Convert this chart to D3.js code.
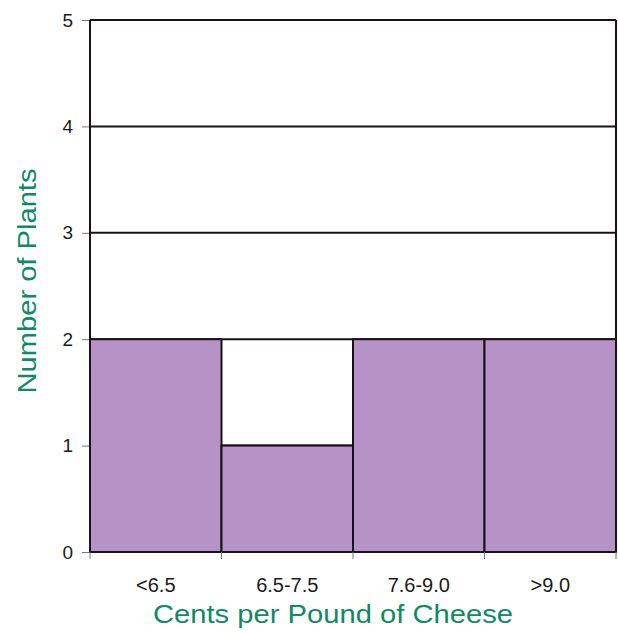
<!DOCTYPE html>
<html>
<head>
<meta charset="utf-8">
<script src="https://cdn.jsdelivr.net/npm/d3@7"></script>
<style>
  html, body { margin: 0; padding: 0; background: #ffffff; }
  svg { display: block; font-family: "Liberation Sans", Arial, sans-serif; }
</style>
</head>
<body>
<svg id="chart" width="618" height="633"></svg>
<script>
const categories = ["<6.5", "6.5-7.5", "7.6-9.0", ">9.0"];
const plantCounts = [2, 1, 2, 2];
const yTicks = [0, 1, 2, 3, 4, 5];
const xTitle = "Cents per Pound of Cheese";
const yTitle = "Number of Plants";

(function () {
const svg = d3.select("#chart");
const plotLeft = 90, plotRight = 616, plotTop = 20, plotBottom = 552;
const green = "#0f8a65";
const lineColor = "#1a1216";

const x = d3.scaleBand().domain(categories).range([plotLeft, plotRight]).padding(0);
const y = d3.scaleLinear().domain([0, 5]).range([plotBottom, plotTop]);

// gridlines
svg.append("g").selectAll("line").data(yTicks.filter(d => d > 0)).join("line")
  .attr("x1", plotLeft).attr("x2", plotRight)
  .attr("y1", d => y(d)).attr("y2", d => y(d))
  .attr("stroke", lineColor).attr("stroke-width", 2);

// bars
svg.append("g").selectAll("rect").data(categories).join("rect")
  .attr("x", d => x(d))
  .attr("y", (d, i) => y(plantCounts[i]))
  .attr("width", x.bandwidth())
  .attr("height", (d, i) => y(0) - y(plantCounts[i]))
  .attr("fill", "#b693c7")
  .attr("stroke", lineColor).attr("stroke-width", 2);

// frame: left, right, bottom
svg.append("line").attr("x1", plotLeft).attr("x2", plotLeft).attr("y1", y(5)).attr("y2", y(0))
  .attr("stroke", lineColor).attr("stroke-width", 2);
svg.append("line").attr("x1", plotRight).attr("x2", plotRight).attr("y1", y(5)).attr("y2", y(0))
  .attr("stroke", lineColor).attr("stroke-width", 2);
svg.append("line").attr("x1", plotLeft).attr("x2", plotRight).attr("y1", y(0)).attr("y2", y(0))
  .attr("stroke", lineColor).attr("stroke-width", 2);

// y axis
const yAxis = svg.append("g").attr("transform", `translate(${plotLeft - 1},0)`)
  .call(d3.axisLeft(y).tickValues(yTicks).tickFormat(d3.format("d")).tickSize(7).tickPadding(9));
yAxis.select(".domain").remove();
yAxis.selectAll(".tick line").attr("stroke", "#777").attr("stroke-width", 1);
yAxis.selectAll(".tick text").attr("font-size", 19).attr("fill", "#1a1a1a")
  .attr("font-family", "'Liberation Sans', Arial, sans-serif");

// x axis labels
const xAxis = svg.append("g").attr("transform", `translate(0,${plotBottom})`)
  .call(d3.axisBottom(x).tickSize(0).tickPadding(0));
xAxis.select(".domain").remove();
xAxis.selectAll(".tick text").attr("font-size", 20).attr("fill", "#1a1a1a")
  .attr("dy", null).attr("y", 40)
  .attr("font-family", "'Liberation Sans', Arial, sans-serif");

// x boundary ticks
const bounds = categories.map(c => x(c)).concat([x(categories[categories.length - 1]) + x.bandwidth()]);
svg.append("g").selectAll("line").data(bounds).join("line")
  .attr("x1", d => d).attr("x2", d => d)
  .attr("y1", plotBottom).attr("y2", plotBottom + 7)
  .attr("stroke", "#777").attr("stroke-width", 1);

// titles
svg.append("text").attr("x", 333).attr("y", 623)
  .attr("text-anchor", "middle").attr("font-size", 26).attr("fill", green)
  .attr("textLength", 360).attr("lengthAdjust", "spacingAndGlyphs")
  .text(xTitle);

svg.append("text").attr("transform", "translate(36,281) rotate(-90)")
  .attr("text-anchor", "middle").attr("font-size", 26).attr("fill", green)
  .attr("textLength", 225).attr("lengthAdjust", "spacingAndGlyphs")
  .text(yTitle);
})();
</script>
</body>
</html>
